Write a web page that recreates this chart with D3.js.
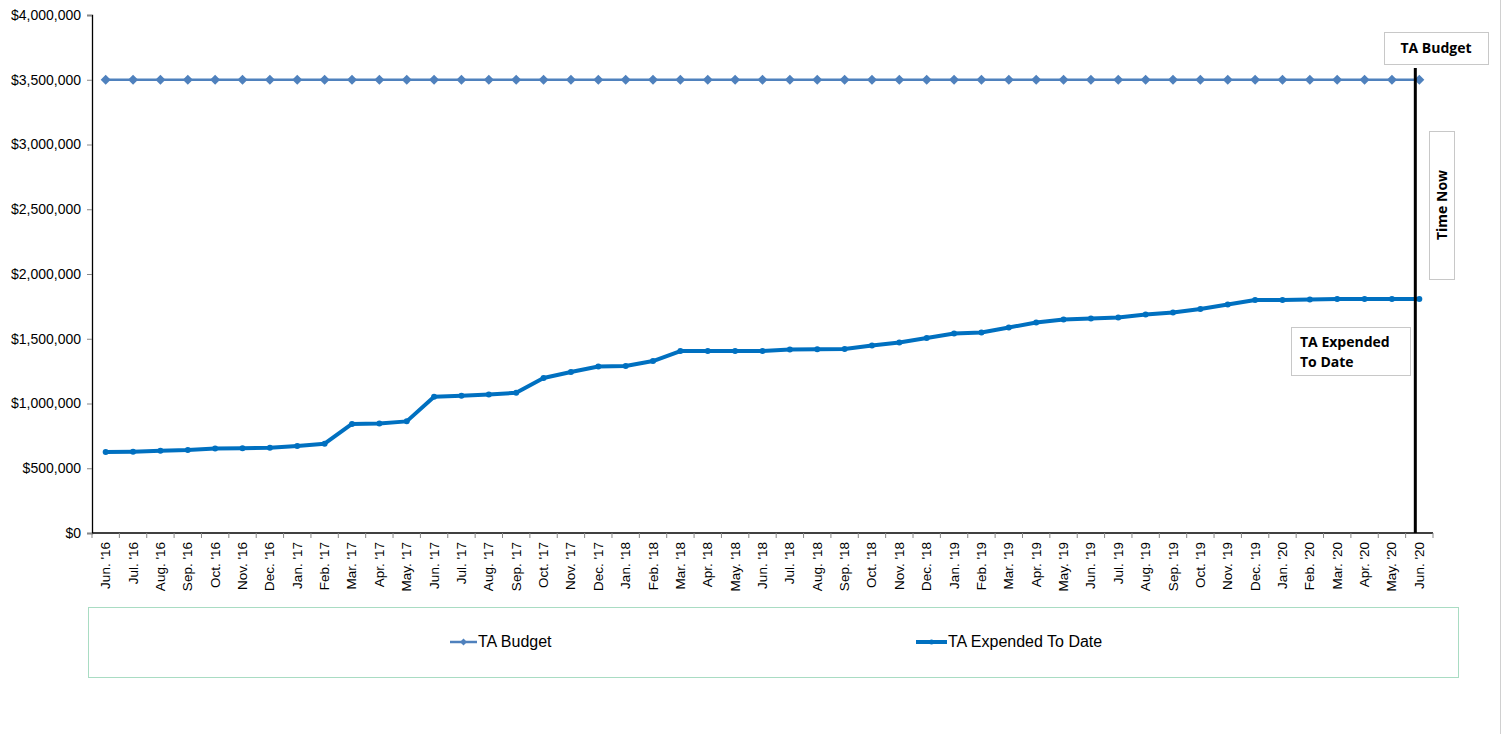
<!DOCTYPE html>
<html>
<head>
<meta charset="utf-8">
<script src="https://cdn.jsdelivr.net/npm/d3@7"></script>
<style>
  body { margin: 0; background: #fff; }
  svg { display: block; }
  .axis text { font-family: "Liberation Sans", Arial, sans-serif; font-size: 13.5px; fill: #000; }
  .yaxis text { font-size: 14px; }
  .note { font-family: "Open Sans", sans-serif; font-weight: bold; font-size: 14px; fill: #000; }
</style>
</head>
<body>
<svg id="chart" width="1506" height="734"></svg>
<script>
// months Jun '16 .. Jun '20
var months = ["Jun. '16","Jul. '16","Aug. '16","Sep. '16","Oct. '16","Nov. '16","Dec. '16",
  "Jan. '17","Feb. '17","Mar. '17","Apr. '17","May. '17","Jun. '17","Jul. '17","Aug. '17","Sep. '17","Oct. '17","Nov. '17","Dec. '17",
  "Jan. '18","Feb. '18","Mar. '18","Apr. '18","May. '18","Jun. '18","Jul. '18","Aug. '18","Sep. '18","Oct. '18","Nov. '18","Dec. '18",
  "Jan. '19","Feb. '19","Mar. '19","Apr. '19","May. '19","Jun. '19","Jul. '19","Aug. '19","Sep. '19","Oct. '19","Nov. '19","Dec. '19",
  "Jan. '20","Feb. '20","Mar. '20","Apr. '20","May. '20","Jun. '20"];

var budget = months.map(function () { return 3500000; });

var expended = [625000, 628000, 635000, 640000, 653000, 655000, 658000,
  672000, 690000, 842000, 845000, 862000, 1052000, 1060000, 1070000, 1083000, 1197000, 1243000, 1286000,
  1290000, 1328000, 1405000, 1405000, 1405000, 1405000, 1417000, 1418000, 1421000, 1448000, 1471000, 1506000,
  1540000, 1548000, 1587000, 1625000, 1649000, 1656000, 1664000, 1687000, 1703000, 1730000, 1764000, 1799000,
  1799000, 1803000, 1806000, 1806000, 1806000, 1806000];

var yTicks = [0, 500000, 1000000, 1500000, 2000000, 2500000, 3000000, 3500000, 4000000];

var svg = d3.select("#chart");
var plotLeft = 92, plotRight = 1433, plotTop = 15, plotBottom = 533;

var x = d3.scaleBand().domain(months).range([plotLeft, plotRight]);
var y = d3.scaleLinear().domain([0, 4000000]).range([plotBottom, plotTop]);
function cx(d, i) { return x(months[i]) + x.bandwidth() / 2; }

// outer frame line on the right
svg.append("line").attr("x1", 1500.5).attr("x2", 1500.5).attr("y1", 0).attr("y2", 734)
  .attr("stroke", "#d0d0d0").attr("stroke-width", 1);

// y axis
var yAxis = svg.append("g").attr("class", "axis yaxis")
  .attr("transform", "translate(" + plotLeft + ",0)")
  .call(d3.axisLeft(y).tickValues(yTicks).tickSize(5).tickPadding(6)
    .tickFormat(function (d) { return "$" + d3.format(",")(d); }));
yAxis.select(".domain").attr("stroke", "#000").attr("stroke-width", 1.3);
yAxis.selectAll(".tick line").attr("stroke", "#888");

// x axis: ticks between categories
var xg = svg.append("g").attr("class", "axis").attr("transform", "translate(0," + plotBottom + ")");
xg.append("line").attr("x1", plotLeft).attr("x2", plotRight).attr("stroke", "#000").attr("stroke-width", 1.3);
xg.selectAll(".tk").data(d3.range(months.length + 1)).enter().append("line")
  .attr("x1", function (i) { return plotLeft + i * x.bandwidth(); })
  .attr("x2", function (i) { return plotLeft + i * x.bandwidth(); })
  .attr("y1", 0).attr("y2", 5).attr("stroke", "#888");
xg.selectAll(".lbl").data(months).enter().append("text")
  .attr("transform", function (d) { return "translate(" + (x(d) + x.bandwidth() / 2 + 4.5) + ",9) rotate(-90)"; })
  .attr("text-anchor", "end")
  .text(function (d) { return d; });

var line = d3.line().x(cx).y(function (d) { return y(d); });

// budget series (square markers turned 45deg = diamonds)
svg.append("path").datum(budget).attr("d", line)
  .attr("fill", "none").attr("stroke", "#4F81BD").attr("stroke-width", 2.5);
svg.selectAll(".bd").data(budget).enter().append("path")
  .attr("d", d3.symbol().type(d3.symbolSquare).size(50))
  .attr("transform", function (d, i) { return "translate(" + cx(d, i) + "," + y(d) + ") rotate(45)"; })
  .attr("fill", "#4F81BD");

// expended series
svg.append("path").datum(expended).attr("d", line)
  .attr("fill", "none").attr("stroke", "#0070C0").attr("stroke-width", 4).attr("stroke-linejoin", "round");
svg.selectAll(".ex").data(expended).enter().append("circle")
  .attr("cx", cx).attr("cy", function (d) { return y(d); }).attr("r", 3)
  .attr("fill", "#0070C0");

// time now line
var nowX = cx(null, months.length - 1) - 4;
svg.append("line").attr("x1", nowX).attr("x2", nowX).attr("y1", 68).attr("y2", plotBottom)
  .attr("stroke", "#000").attr("stroke-width", 3);

// annotation boxes
function box(x0, y0, w, h) {
  svg.append("rect").attr("x", x0 + 0.5).attr("y", y0 + 0.5).attr("width", w).attr("height", h)
    .attr("fill", "#fff").attr("stroke", "#c8c8c8").attr("stroke-width", 1);
}
box(1384, 32, 104, 32);
svg.append("text").attr("class", "note").attr("x", 1436).attr("y", 53).attr("text-anchor", "middle").text("TA Budget");

box(1429, 131, 25, 148);
svg.append("text").attr("class", "note").attr("transform", "translate(1447,205) rotate(-90)")
  .attr("text-anchor", "middle").text("Time Now");

box(1291, 327, 119, 48);
svg.append("text").attr("class", "note").attr("x", 1300).attr("y", 347).text("TA Expended");
svg.append("text").attr("class", "note").attr("x", 1300).attr("y", 367).text("To Date");

// legend
svg.append("rect").attr("x", 88.5).attr("y", 607.5).attr("width", 1370).attr("height", 70)
  .attr("fill", "none").attr("stroke", "#a9dcc3").attr("stroke-width", 1);
var legend = [
  { name: "TA Budget", color: "#4F81BD", w: 2.5, x: 450, len: 27, mark: "diamond" },
  { name: "TA Expended To Date", color: "#0070C0", w: 4, x: 916, len: 31, mark: "circle" }
];
legend.forEach(function (l) {
  var g = svg.append("g");
  g.append("line").attr("x1", l.x).attr("x2", l.x + l.len).attr("y1", 642).attr("y2", 642)
    .attr("stroke", l.color).attr("stroke-width", l.w);
  if (l.mark === "diamond") {
    g.append("path").attr("d", d3.symbol().type(d3.symbolSquare).size(24))
      .attr("transform", "translate(" + (l.x + l.len / 2) + ",642) rotate(45)").attr("fill", l.color);
  } else {
    g.append("circle").attr("cx", l.x + l.len / 2).attr("cy", 642).attr("r", 2.5).attr("fill", l.color);
  }
  g.append("text").attr("x", l.x + l.len + 1).attr("y", 647)
    .style("font-family", "'Liberation Sans', Arial, sans-serif").style("font-size", "16px")
    .text(l.name);
});
</script>
</body>
</html>
